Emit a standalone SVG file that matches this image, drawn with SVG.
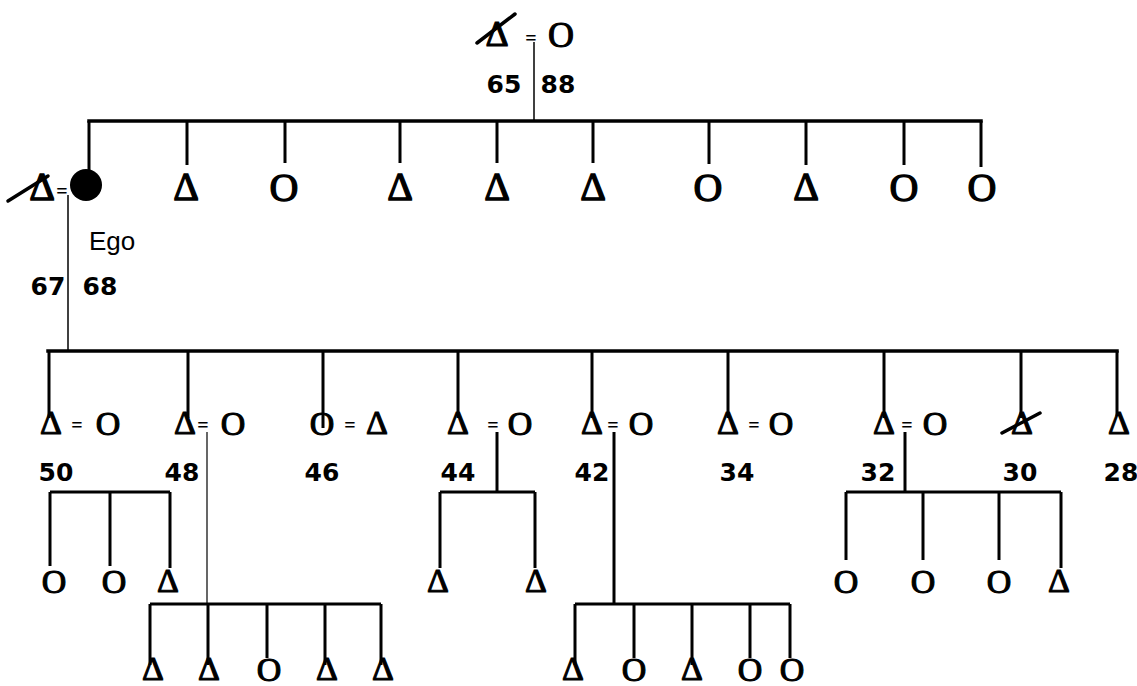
<svg xmlns="http://www.w3.org/2000/svg" width="1137" height="686" viewBox="0 0 1137 686">
<style>
.s{font-family:"Liberation Serif","Times New Roman",serif;font-size:34px;fill:#000;stroke:#000;stroke-width:1.1;text-anchor:middle}
.b{font-size:40px;stroke-width:1.3}
.m{font-size:36px}
.eq{font-family:"Liberation Serif","Times New Roman",serif;font-size:20px;font-weight:bold;fill:#000;text-anchor:middle}
.n{font-family:"DejaVu Sans",sans-serif;font-weight:bold;font-size:25px;fill:#000;text-anchor:middle}
.lbl{font-family:"Liberation Sans",Arial,sans-serif;font-size:26px;fill:#000}
.k{stroke:#000;stroke-width:3.5;fill:none;stroke-linecap:square}
.d{stroke:#000;stroke-width:3;fill:none}
.t{stroke:#000;stroke-width:1.5;fill:none}
.x{stroke:#000;stroke-width:3.5;stroke-linecap:round}
</style>
<rect width="1137" height="686" fill="#fff"/>
<g id="connectors">
<line class="t" x1="534" y1="42" x2="534" y2="121"/>
<line class="k" x1="89" y1="121" x2="981" y2="121"/>
<path class="d" d="M89 121V170M187 121V165M285 121V163M400 121V163M497 121V163M593 121V163M709 121V164M806 121V165M904 121V165M981 121V167"/>
<line class="t" x1="68" y1="195" x2="68" y2="351"/>
<line class="k" x1="48" y1="351" x2="1117" y2="351"/>
<path class="d" d="M49 351V418M188 351V418M323 351V428M458 351V418M592 351V418M728 351V418M884 351V418M1021 351V418M1117 351V416"/>
<path class="d" d="M50 492H170M50 492V566M110 492V566M170 492V568"/>
<line x1="207" y1="432" x2="207" y2="604" stroke="#000" stroke-width="1.2"/>
<path class="d" d="M150 604H381M150 604V665M208 604V665M267 604V658M325 604V665M381 604V665"/>
<path class="d" d="M497 432V492M440 492H535M440 492V568M535 492V568"/>
<path class="d" d="M614 432V604M575 604H790M575 604V665M634 604V658M692 604V665M750 604V658M790 604V658"/>
<path class="d" d="M905 432V492M846 492H1061M846 492V560M923 492V560M999 492V560M1061 492V568"/>
</g>
<g id="gen0-couple">
<text class="s m" x="497" y="46">Δ</text>
<line class="x" x1="477" y1="43" x2="515" y2="14"/>
<text class="eq" x="531" y="45">=</text>
<text class="s m" x="561" y="47">O</text>
<text class="n" x="504" y="93">65</text>
<text class="n" x="558" y="93">88</text>
</g>
<g id="ego-couple">
<text class="s b" x="42" y="200">Δ</text>
<line class="x" x1="8" y1="201" x2="48" y2="176"/>
<text class="eq" x="62" y="198">=</text>
<circle cx="86" cy="185" r="16" fill="#000"/>
<text class="lbl" x="89" y="250">Ego</text>
<text class="n" x="48" y="295">67</text>
<text class="n" x="100" y="295">68</text>
</g>
<g id="ego-siblings">
<text class="s b" x="186" y="200">Δ</text>
<text class="s b" x="284" y="201">O</text>
<text class="s b" x="400" y="200">Δ</text>
<text class="s b" x="497" y="200">Δ</text>
<text class="s b" x="593" y="200">Δ</text>
<text class="s b" x="708" y="201">O</text>
<text class="s b" x="806" y="200">Δ</text>
<text class="s b" x="904" y="201">O</text>
<text class="s b" x="982" y="201">O</text>
</g>
<g id="child-50">
<text class="s" x="51" y="434">Δ</text><text class="eq" x="77" y="432">=</text><text class="s" x="108" y="435">O</text>
<text class="n" x="56" y="481">50</text>
</g>
<g id="child-48">
<text class="s" x="185" y="434">Δ</text><text class="eq" x="203" y="432">=</text><text class="s" x="233" y="435">O</text>
<text class="n" x="182" y="481">48</text>
</g>
<g id="child-46">
<text class="s" x="322" y="435">O</text><text class="eq" x="350" y="432">=</text><text class="s" x="377" y="434">Δ</text>
<text class="n" x="322" y="481">46</text>
</g>
<g id="child-44">
<text class="s" x="458" y="434">Δ</text><text class="eq" x="493" y="432">=</text><text class="s" x="520" y="435">O</text>
<text class="n" x="458" y="481">44</text>
</g>
<g id="child-42">
<text class="s" x="592" y="434">Δ</text><text class="eq" x="613" y="432">=</text><text class="s" x="641" y="435">O</text>
<text class="n" x="592" y="481">42</text>
</g>
<g id="child-34">
<text class="s" x="728" y="434">Δ</text><text class="eq" x="754" y="432">=</text><text class="s" x="781" y="435">O</text>
<text class="n" x="737" y="481">34</text>
</g>
<g id="child-32">
<text class="s" x="884" y="434">Δ</text><text class="eq" x="907" y="432">=</text><text class="s" x="935" y="435">O</text>
<text class="n" x="878" y="481">32</text>
</g>
<g id="child-30">
<text class="s" x="1022" y="434">Δ</text>
<line class="x" x1="1002" y1="433" x2="1040" y2="413"/>
<text class="n" x="1020" y="481">30</text>
</g>
<g id="child-28">
<text class="s" x="1119" y="434">Δ</text>
<text class="n" x="1121" y="481">28</text>
</g>
<g id="grandchildren-50">
<text class="s" x="54" y="593">O</text><text class="s" x="114" y="593">O</text><text class="s" x="168" y="592">Δ</text>
</g>
<g id="grandchildren-48">
<text class="s" x="153" y="680">Δ</text><text class="s" x="209" y="680">Δ</text><text class="s" x="269" y="681">O</text><text class="s" x="327" y="680">Δ</text><text class="s" x="383" y="680">Δ</text>
</g>
<g id="grandchildren-44">
<text class="s" x="438" y="592">Δ</text><text class="s" x="536" y="592">Δ</text>
</g>
<g id="grandchildren-42">
<text class="s" x="573" y="680">Δ</text><text class="s" x="634" y="681">O</text><text class="s" x="692" y="680">Δ</text><text class="s" x="750" y="681">O</text><text class="s" x="792" y="681">O</text>
</g>
<g id="grandchildren-32">
<text class="s" x="846" y="593">O</text><text class="s" x="923" y="593">O</text><text class="s" x="999" y="593">O</text><text class="s" x="1059" y="592">Δ</text>
</g>
</svg>
